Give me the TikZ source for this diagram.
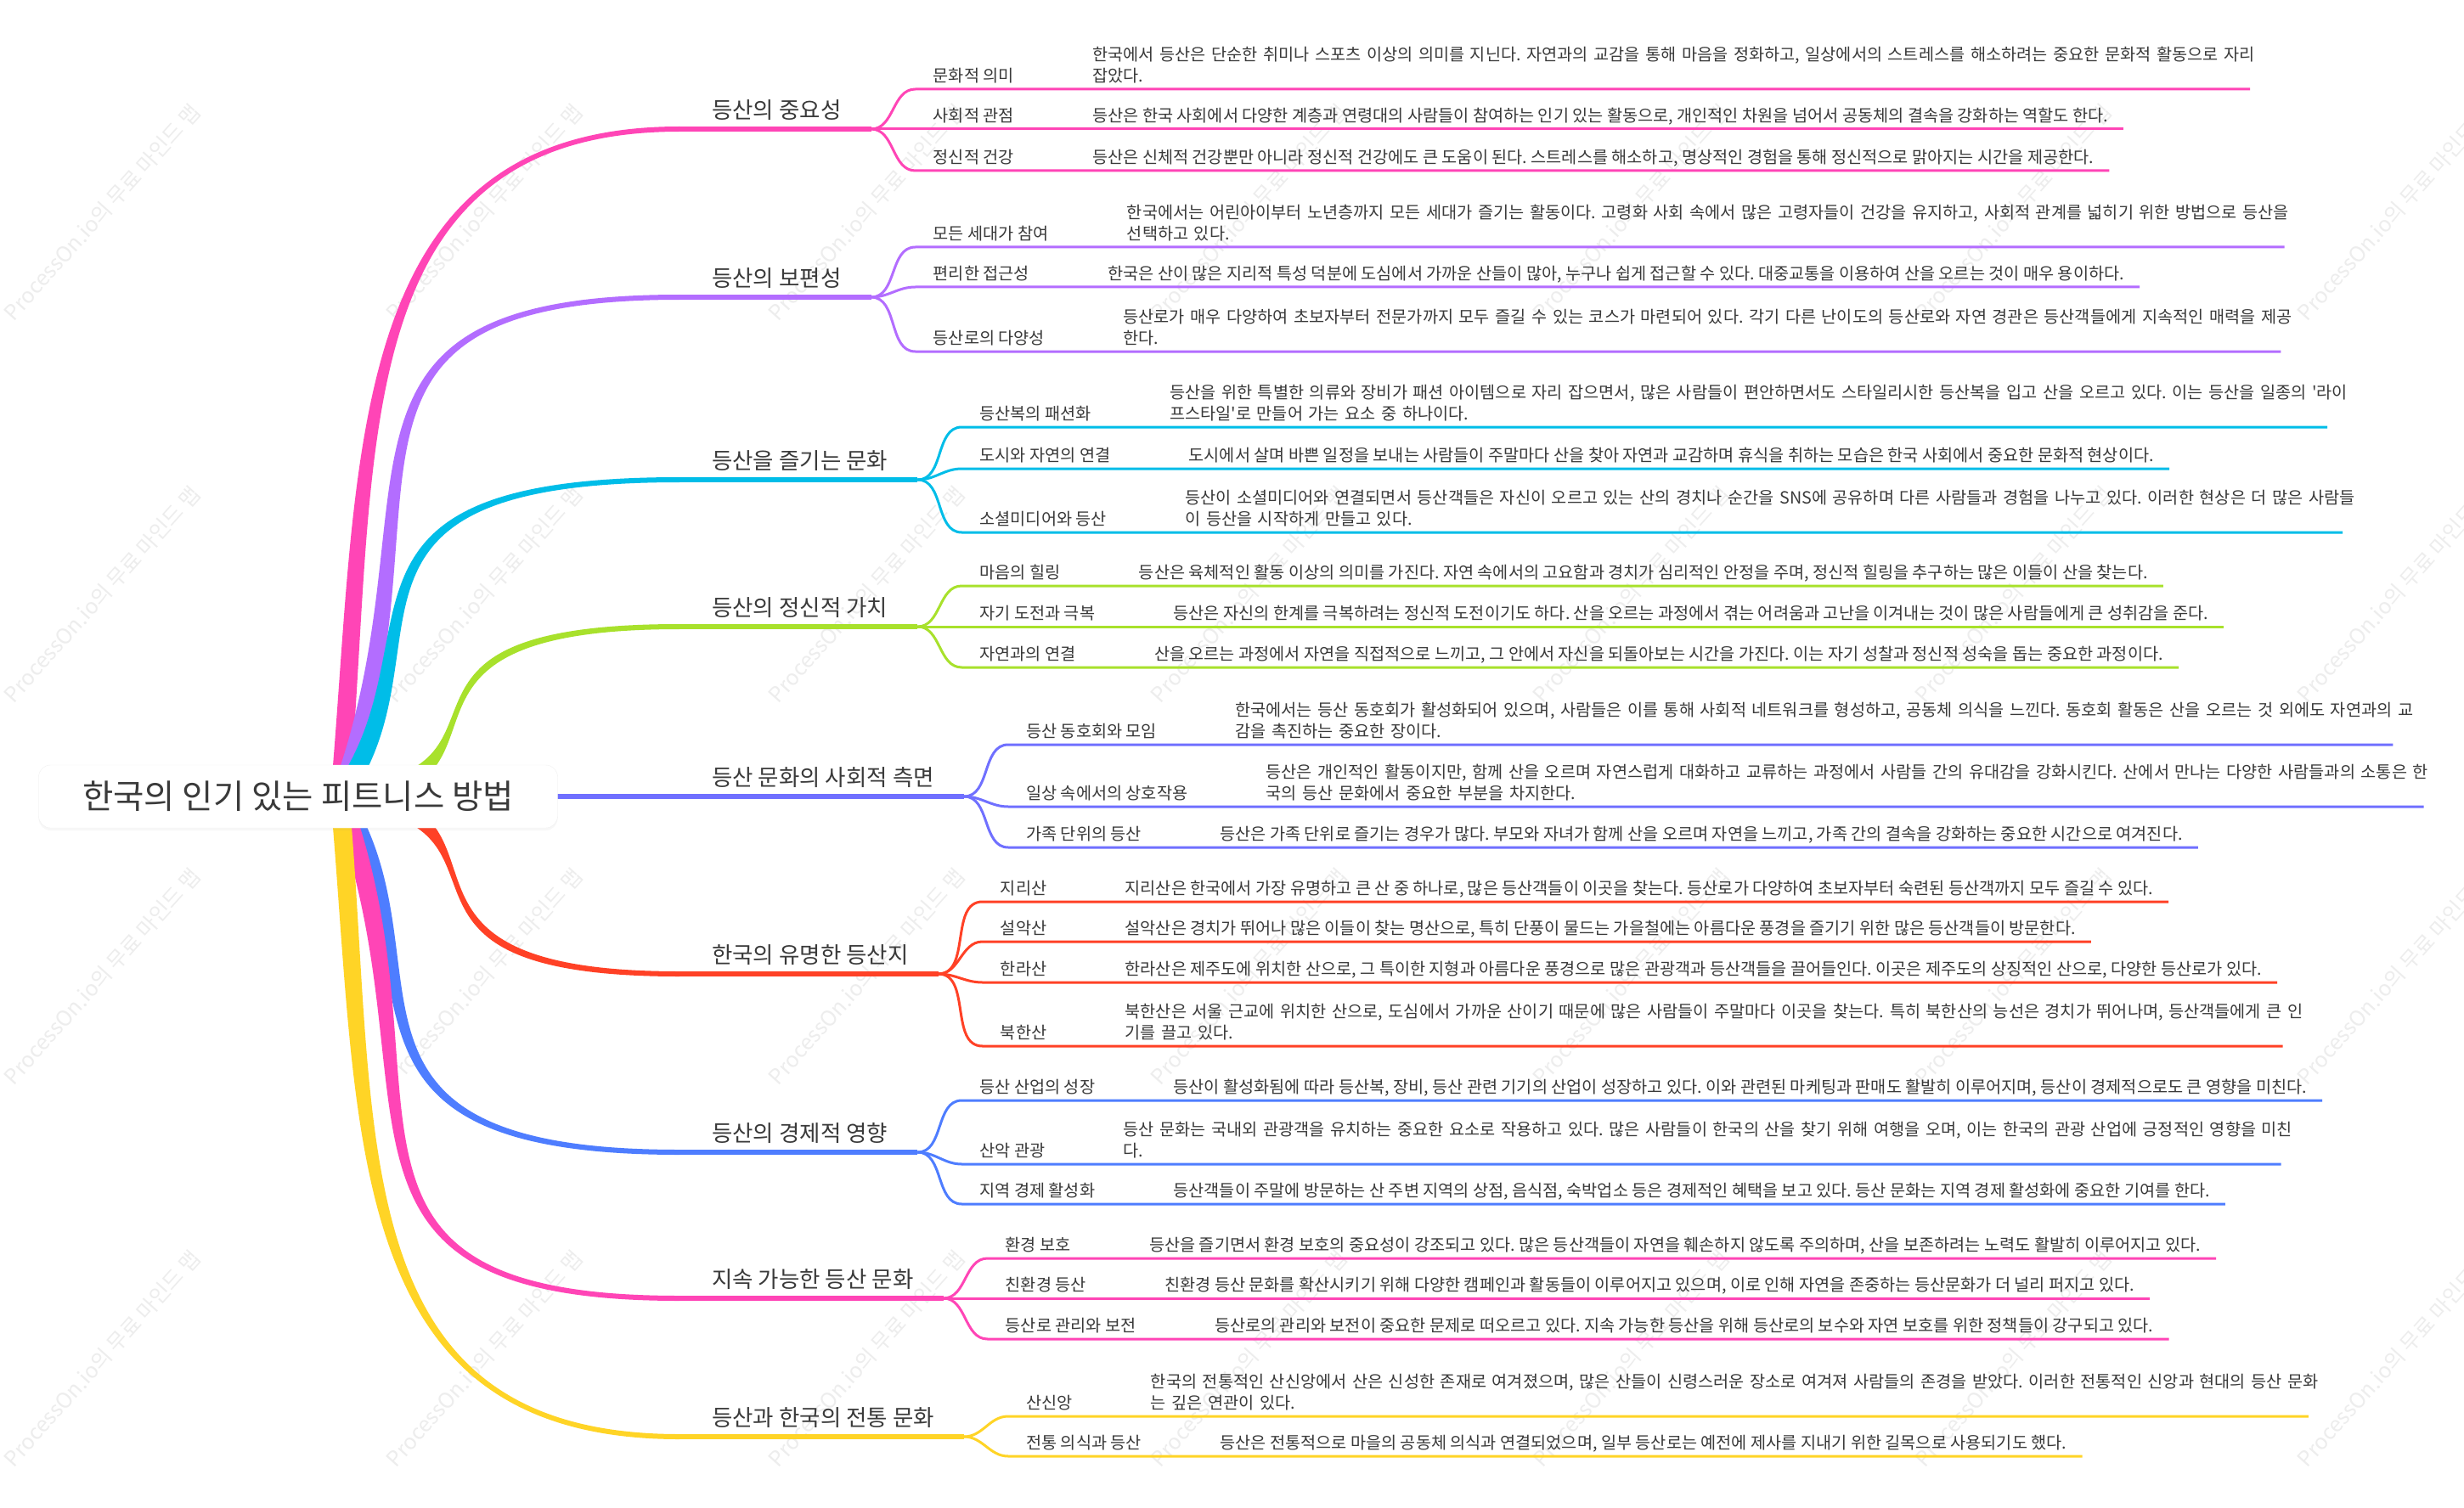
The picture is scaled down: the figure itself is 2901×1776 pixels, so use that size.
\documentclass[tikz,border=0pt]{standalone}
\usepackage{fontspec}
\newfontfamily\hangul{Noto Sans CJK KR}
\usetikzlibrary{positioning,calc,shadows,backgrounds}
\frenchspacing

\definecolor{ink}{HTML}{3A3A3A}
\definecolor{wm}{HTML}{EDEDED}
\definecolor{br1}{HTML}{FF45B6}
\definecolor{br2}{HTML}{B36DFF}
\definecolor{br3}{HTML}{00BDE8}
\definecolor{br4}{HTML}{A8E12C}
\definecolor{br5}{HTML}{7070FF}
\definecolor{br6}{HTML}{FF4126}
\definecolor{br7}{HTML}{4E7DFF}
\definecolor{br8}{HTML}{FF45B6}
\definecolor{br9}{HTML}{FFD426}

\tikzset{
  root/.style={draw=black!6, fill=white, rounded corners=14pt,
    minimum width=611pt, minimum height=74pt, inner sep=0pt,
    font=\hangul\fontsize{39.5}{46}\selectfont, text=ink,
    drop shadow={opacity=0.06, shadow xshift=0pt, shadow yshift=-3pt}},
  topic/.style={anchor=south west, inner xsep=0pt, inner ysep=3.1pt,
    font=\hangul\fontsize{26.5}{32}\selectfont, text=ink, execute at end node=\strut},
  leaf/.style={anchor=south west, inner xsep=0pt, inner ysep=1.2pt, align=left,
    font=\hangul\fontsize{19.7}{25}\selectfont, text=ink, execute at end node=\strut},
  note/.style={leaf, right=92pt of #1.south east, anchor=south west},
  twoline/.style={text width=1400pt},
  twig/.style={line width=3pt},
  limb/.style={line width=6pt},
  wmark/.style={text=wm, rotate=48, font=\hangul\fontsize{25}{30}\selectfont}
}

% tapered main branch: colour, topic node, first control (dx, dy) from the hub, x of second control
\newcommand\bough[5]{%
  \fill[#1] let \p1=(hub), \p2=($(#2.south west)+(-38,0)$),
      \n1={sign((\y2)-(\y1))}, \n2={veclen(#3,#4)},
      \n3={-11*(\n1)*#4/(\n2)}, \n4={11*#3/(\n2)} in
    ({\x1+(\n3)},{\y1+(\n4)})
      .. controls ({\x1+#3+(\n3)},{\y1+(\n1)*#4+(\n4)}) and ({\x1+(#5)},{\y2+3}) .. (\x2,{\y2+3})
    -- (\x2,{\y2-3})
      .. controls ({\x1+(#5)},{\y2-3}) and ({\x1+#3-(\n3)},{\y1+(\n1)*#4-(\n4)}) .. ({\x1-(\n3)},{\y1-(\n4)})
    -- cycle;
  \draw[#1, limb] ($(#2.south west)+(-39,0)$) -- ($(#2.south east)+(35,0)$);
}

\begin{document}
\begin{tikzpicture}[x=1pt, y=-1pt]
  \useasboundingbox (0,0) rectangle (2901,1776);
  \begin{scope}[on background layer]
    \fill[white] (0,0) rectangle (2901,1776);
    \foreach \i in {0,...,6}
      \foreach \j in {0,...,3}
        \node[wmark] (wm\i\j) at ({120+450*\i},{250+450*\j}) {ProcessOn.io의 무료 마인드 맵};
  \end{scope}

  \node[root] (root) at (351,938) {한국의 인기 있는 피트니스 방법};
  \coordinate (hub) at ($(root.center)+(49,0)$);

  \node[topic] (t1) at (838,152) {등산의 중요성};
  \node[topic] (t2) at (838,350) {등산의 보편성};
  \node[topic] (t3) at (838,565) {등산을 즐기는 문화};
  \node[topic] (t4) at (838,738) {등산의 정신적 가치};
  \node[topic] (t5) at (838,938) {등산 문화의 사회적 측면};
  \node[topic] (t6) at (838,1147) {한국의 유명한 등산지};
  \node[topic] (t7) at (838,1357) {등산의 경제적 영향};
  \node[topic] (t8) at (838,1529) {지속 가능한 등산 문화};
  \node[topic] (t9) at (838,1692) {등산과 한국의 전통 문화};
  \foreach \k in {1,...,9} {
    \coordinate (f\k) at ($(t\k.south east)+(35,0)$);
    \coordinate (k\k) at ($(t\k.south east)+(108,0)$);
  }

  \node[leaf] (c1a) at (k1 |- 0,105) {문화적 의미};
  \node[note=c1a, twoline] (d1a) {한국에서 등산은 단순한 취미나 스포츠 이상의 의미를 지닌다. 자연과의 교감을 통해 마음을 정화하고, 일상에서의 스트레스를 해소하려는 중요한 문화적 활동으로 자리\\잡았다.};
  \node[leaf] (c1b) at (k1 |- 0,152) {사회적 관점};
  \node[note=c1b] (d1b) {등산은 한국 사회에서 다양한 계층과 연령대의 사람들이 참여하는 인기 있는 활동으로, 개인적인 차원을 넘어서 공동체의 결속을 강화하는 역할도 한다.};
  \node[leaf] (c1c) at (k1 |- 0,201) {정신적 건강};
  \node[note=c1c] (d1c) {등산은 신체적 건강뿐만 아니라 정신적 건강에도 큰 도움이 된다. 스트레스를 해소하고, 명상적인 경험을 통해 정신적으로 맑아지는 시간을 제공한다.};

  \node[leaf] (c2a) at (k2 |- 0,291) {모든 세대가 참여};
  \node[note=c2a, twoline] (d2a) {한국에서는 어린아이부터 노년층까지 모든 세대가 즐기는 활동이다. 고령화 사회 속에서 많은 고령자들이 건강을 유지하고, 사회적 관계를 넓히기 위한 방법으로 등산을\\선택하고 있다.};
  \node[leaf] (c2b) at (k2 |- 0,338) {편리한 접근성};
  \node[note=c2b] (d2b) {한국은 산이 많은 지리적 특성 덕분에 도심에서 가까운 산들이 많아, 누구나 쉽게 접근할 수 있다. 대중교통을 이용하여 산을 오르는 것이 매우 용이하다.};
  \node[leaf] (c2c) at (k2 |- 0,414) {등산로의 다양성};
  \node[note=c2c, twoline] (d2c) {등산로가 매우 다양하여 초보자부터 전문가까지 모두 즐길 수 있는 코스가 마련되어 있다. 각기 다른 난이도의 등산로와 자연 경관은 등산객들에게 지속적인 매력을 제공\\한다.};

  \node[leaf] (c3a) at (k3 |- 0,503) {등산복의 패션화};
  \node[note=c3a, twoline] (d3a) {등산을 위한 특별한 의류와 장비가 패션 아이템으로 자리 잡으면서, 많은 사람들이 편안하면서도 스타일리시한 등산복을 입고 산을 오르고 있다. 이는 등산을 일종의 '라이\\프스타일'로 만들어 가는 요소 중 하나이다.};
  \node[leaf] (c3b) at (k3 |- 0,552) {도시와 자연의 연결};
  \node[note=c3b] (d3b) {도시에서 살며 바쁜 일정을 보내는 사람들이 주말마다 산을 찾아 자연과 교감하며 휴식을 취하는 모습은 한국 사회에서 중요한 문화적 현상이다.};
  \node[leaf] (c3c) at (k3 |- 0,627) {소셜미디어와 등산};
  \node[note=c3c, twoline] (d3c) {등산이 소셜미디어와 연결되면서 등산객들은 자신이 오르고 있는 산의 경치나 순간을 SNS에 공유하며 다른 사람들과 경험을 나누고 있다. 이러한 현상은 더 많은 사람들\\이 등산을 시작하게 만들고 있다.};

  \node[leaf] (c4a) at (k4 |- 0,690) {마음의 힐링};
  \node[note=c4a] (d4a) {등산은 육체적인 활동 이상의 의미를 가진다. 자연 속에서의 고요함과 경치가 심리적인 안정을 주며, 정신적 힐링을 추구하는 많은 이들이 산을 찾는다.};
  \node[leaf] (c4b) at (k4 |- 0,738) {자기 도전과 극복};
  \node[note=c4b] (d4b) {등산은 자신의 한계를 극복하려는 정신적 도전이기도 하다. 산을 오르는 과정에서 겪는 어려움과 고난을 이겨내는 것이 많은 사람들에게 큰 성취감을 준다.};
  \node[leaf] (c4c) at (k4 |- 0,786) {자연과의 연결};
  \node[note=c4c] (d4c) {산을 오르는 과정에서 자연을 직접적으로 느끼고, 그 안에서 자신을 되돌아보는 시간을 가진다. 이는 자기 성찰과 정신적 성숙을 돕는 중요한 과정이다.};

  \node[leaf] (c5a) at (k5 |- 0,877) {등산 동호회와 모임};
  \node[note=c5a, twoline] (d5a) {한국에서는 등산 동호회가 활성화되어 있으며, 사람들은 이를 통해 사회적 네트워크를 형성하고, 공동체 의식을 느낀다. 동호회 활동은 산을 오르는 것 외에도 자연과의 교\\감을 촉진하는 중요한 장이다.};
  \node[leaf] (c5b) at (k5 |- 0,950) {일상 속에서의 상호작용};
  \node[note=c5b, twoline] (d5b) {등산은 개인적인 활동이지만, 함께 산을 오르며 자연스럽게 대화하고 교류하는 과정에서 사람들 간의 유대감을 강화시킨다. 산에서 만나는 다양한 사람들과의 소통은 한\\국의 등산 문화에서 중요한 부분을 차지한다.};
  \node[leaf] (c5c) at (k5 |- 0,998) {가족 단위의 등산};
  \node[note=c5c] (d5c) {등산은 가족 단위로 즐기는 경우가 많다. 부모와 자녀가 함께 산을 오르며 자연을 느끼고, 가족 간의 결속을 강화하는 중요한 시간으로 여겨진다.};

  \node[leaf] (c6a) at (k6 |- 0,1062) {지리산};
  \node[note=c6a] (d6a) {지리산은 한국에서 가장 유명하고 큰 산 중 하나로, 많은 등산객들이 이곳을 찾는다. 등산로가 다양하여 초보자부터 숙련된 등산객까지 모두 즐길 수 있다.};
  \node[leaf] (c6b) at (k6 |- 0,1109) {설악산};
  \node[note=c6b] (d6b) {설악산은 경치가 뛰어나 많은 이들이 찾는 명산으로, 특히 단풍이 물드는 가을철에는 아름다운 풍경을 즐기기 위한 많은 등산객들이 방문한다.};
  \node[leaf] (c6c) at (k6 |- 0,1157) {한라산};
  \node[note=c6c] (d6c) {한라산은 제주도에 위치한 산으로, 그 특이한 지형과 아름다운 풍경으로 많은 관광객과 등산객들을 끌어들인다. 이곳은 제주도의 상징적인 산으로, 다양한 등산로가 있다.};
  \node[leaf] (c6d) at (k6 |- 0,1232) {북한산};
  \node[note=c6d, twoline] (d6d) {북한산은 서울 근교에 위치한 산으로, 도심에서 가까운 산이기 때문에 많은 사람들이 주말마다 이곳을 찾는다. 특히 북한산의 능선은 경치가 뛰어나며, 등산객들에게 큰 인\\기를 끌고 있다.};

  \node[leaf] (c7a) at (k7 |- 0,1296) {등산 산업의 성장};
  \node[note=c7a] (d7a) {등산이 활성화됨에 따라 등산복, 장비, 등산 관련 기기의 산업이 성장하고 있다. 이와 관련된 마케팅과 판매도 활발히 이루어지며, 등산이 경제적으로도 큰 영향을 미친다.};
  \node[leaf] (c7b) at (k7 |- 0,1371) {산악 관광};
  \node[note=c7b, twoline] (d7b) {등산 문화는 국내외 관광객을 유치하는 중요한 요소로 작용하고 있다. 많은 사람들이 한국의 산을 찾기 위해 여행을 오며, 이는 한국의 관광 산업에 긍정적인 영향을 미친\\다.};
  \node[leaf] (c7c) at (k7 |- 0,1418) {지역 경제 활성화};
  \node[note=c7c] (d7c) {등산객들이 주말에 방문하는 산 주변 지역의 상점, 음식점, 숙박업소 등은 경제적인 혜택을 보고 있다. 등산 문화는 지역 경제 활성화에 중요한 기여를 한다.};

  \node[leaf] (c8a) at (k8 |- 0,1482) {환경 보호};
  \node[note=c8a] (d8a) {등산을 즐기면서 환경 보호의 중요성이 강조되고 있다. 많은 등산객들이 자연을 훼손하지 않도록 주의하며, 산을 보존하려는 노력도 활발히 이루어지고 있다.};
  \node[leaf] (c8b) at (k8 |- 0,1529) {친환경 등산};
  \node[note=c8b] (d8b) {친환경 등산 문화를 확산시키기 위해 다양한 캠페인과 활동들이 이루어지고 있으며, 이로 인해 자연을 존중하는 등산문화가 더 널리 퍼지고 있다.};
  \node[leaf] (c8c) at (k8 |- 0,1577) {등산로 관리와 보전};
  \node[note=c8c] (d8c) {등산로의 관리와 보전이 중요한 문제로 떠오르고 있다. 지속 가능한 등산을 위해 등산로의 보수와 자연 보호를 위한 정책들이 강구되고 있다.};

  \node[leaf] (c9a) at (k9 |- 0,1668) {산신앙};
  \node[note=c9a, twoline] (d9a) {한국의 전통적인 산신앙에서 산은 신성한 존재로 여겨졌으며, 많은 산들이 신령스러운 장소로 여겨져 사람들의 존경을 받았다. 이러한 전통적인 신앙과 현대의 등산 문화\\는 깊은 연관이 있다.};
  \node[leaf] (c9b) at (k9 |- 0,1715) {전통 의식과 등산};
  \node[note=c9b] (d9b) {등산은 전통적으로 마을의 공동체 의식과 연결되었으며, 일부 등산로는 예전에 제사를 지내기 위한 길목으로 사용되기도 했다.};

  \begin{scope}[on background layer]
    \foreach \k/\ua/\ub/\uc in {1/35/398/0, 2/130/350/-60, 3/130/180/-50, 4/240/20/2,
        6/240/20/2, 7/130/200/-50, 8/130/350/-60, 9/35/398/0} {
      \bough{br\k}{t\k}{\ua}{\ub}{\uc}
    }
    \draw[br5, limb] (hub) -- (f5);
    \foreach \c/\k/\an/\e in {1a/1/south west/1363, 1b/1/south east/18, 1c/1/south east/18,
        2a/2/south west/1363, 2b/2/south east/18, 2c/2/south west/1363,
        3a/3/south west/1363, 3b/3/south east/18, 3c/3/south west/1363,
        4a/4/south east/18, 4b/4/south east/18, 4c/4/south east/18,
        5a/5/south west/1363, 5b/5/south west/1363, 5c/5/south east/18,
        6a/6/south east/18, 6b/6/south east/18, 6c/6/south east/18, 6d/6/south west/1363,
        7a/7/south east/18, 7b/7/south west/1363, 7c/7/south east/18,
        8a/8/south east/18, 8b/8/south east/18, 8c/8/south east/18,
        9a/9/south west/1363, 9b/9/south east/18} {
      \draw[twig, br\k] (f\k) to[out=0,in=180] ($(c\c.south west)+(-21,0)$) -- ($(d\c.\an)+(\e,0)$);
    }
  \end{scope}
\end{tikzpicture}
\end{document}
